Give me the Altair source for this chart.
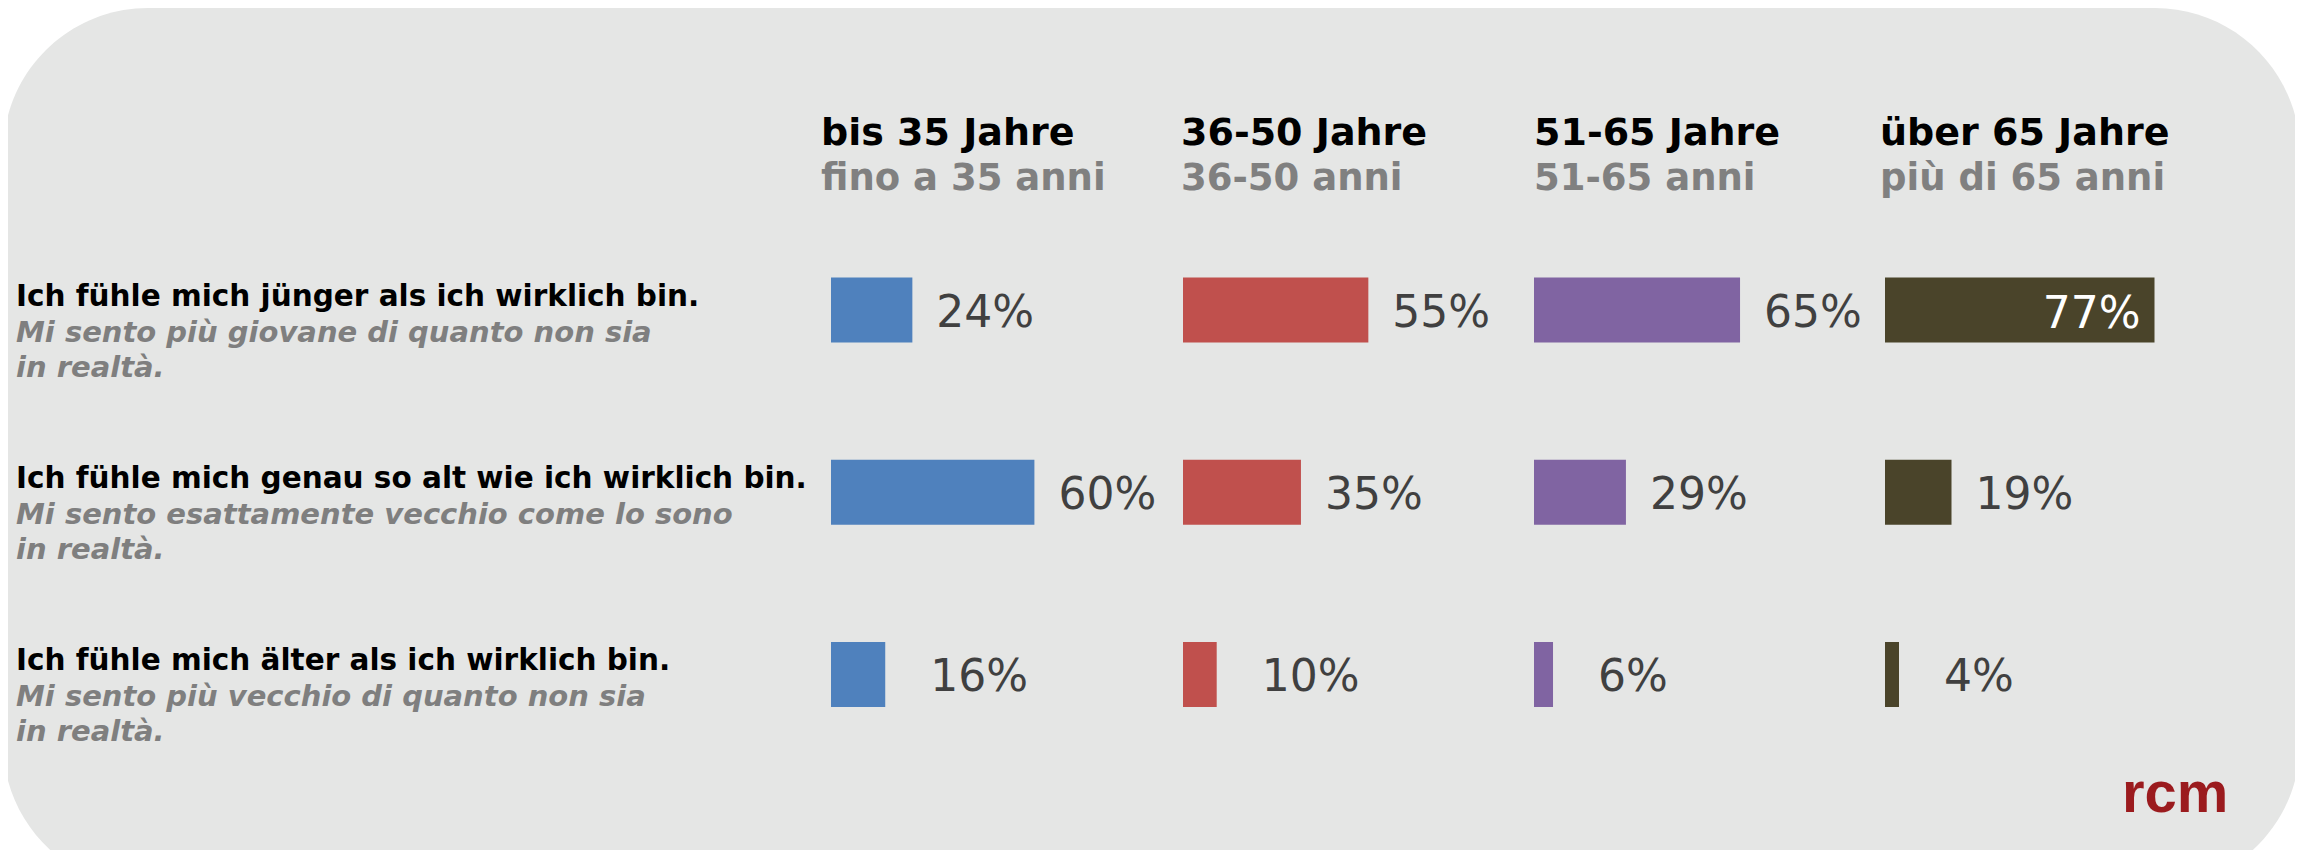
import altair as alt
import pandas as pd

# ---------------- data ----------------
statements_de = [
    "Ich fühle mich jünger als ich wirklich bin.",
    "Ich fühle mich genau so alt wie ich wirklich bin.",
    "Ich fühle mich älter als ich wirklich bin.",
]
statements_it = [
    "Mi sento più giovane di quanto non sia\nin realtà.",
    "Mi sento esattamente vecchio come lo sono\nin realtà.",
    "Mi sento più vecchio di quanto non sia\nin realtà.",
]
groups_de = ["bis 35 Jahre", "36-50 Jahre", "51-65 Jahre", "über 65 Jahre"]
groups_it = ["fino a 35 anni", "36-50 anni", "51-65 anni", "più di 65 anni"]

values_bis35 = [24, 60, 16]
values_36_50 = [55, 35, 10]
values_51_65 = [65, 29, 6]
values_ueber65 = [77, 19, 4]

group_values = [values_bis35, values_36_50, values_51_65, values_ueber65]
colors = ["#4f81bd", "#c0504d", "#8064a2", "#4a442a"]

# ---------------- tables ----------------
rows = []
for g, vals in zip(groups_de, group_values):
    for i, (s, v) in enumerate(zip(statements_de, vals)):
        rows.append({"group": g, "stmt": s, "row": i, "value": v})
df = pd.DataFrame(rows)

labels_df = pd.DataFrame({"stmt": statements_de, "it": statements_it})

FONT = "DejaVu Sans"
BG = "#e5e6e5"

y_enc = alt.Y(
    "stmt:N",
    sort=statements_de,
    scale=alt.Scale(domain=statements_de, range=[211, 757.5], paddingInner=0, paddingOuter=0),
    axis=None,
)

# background rounded panel
bg = alt.Chart(pd.DataFrame({"k": [0]})).mark_rect(
    color=BG, cornerRadius=145
).encode(
    x=alt.value(-5), x2=alt.value(2292), y=alt.value(0), y2=alt.value(880)
)

# row labels
lab_de = alt.Chart(labels_df).mark_text(
    font=FONT, fontSize=29.5, fontWeight="bold", color="#000000",
    align="left", baseline="alphabetic", dy=-4
).encode(x=alt.value(8), y=y_enc, text="stmt:N")

lab_it = alt.Chart(labels_df).mark_text(
    font=FONT, fontSize=29, fontWeight="bold", fontStyle="italic", color="#7f7f7f",
    align="left", baseline="alphabetic", dy=32, lineBreak="\n", lineHeight=35
).encode(x=alt.value(8), y=y_enc, text="it:N")

# per-column scale settings (start pixel, pixels per 100%) and header nudge
col_ranges = [(823, 339), (1175, 337), (1526, 317), (1877, 350)]
header_dx = [-10, -2, 0, -5]


def column(idx):
    g = groups_de[idx]
    x0, span = col_ranges[idx]
    xs = alt.Scale(domain=[0, 100], range=[x0, x0 + span], zero=True, nice=False)
    base = alt.Chart(df).transform_filter(alt.datum.group == g).transform_calculate(
        label="datum.value + '%'"
    )
    x_enc = alt.X("value:Q", scale=xs, axis=None)
    bars = base.mark_bar(height=65, color=colors[idx]).encode(x=x_enc, y=y_enc)
    txt_top = base.transform_filter("datum.value < 70 && datum.row < 2").mark_text(
        font=FONT, fontSize=44, color="#404040", align="left", baseline="alphabetic",
        dx=24, dy=17
    ).encode(x=x_enc, y=y_enc, text="label:N")
    txt_bot = base.transform_filter("datum.value < 70 && datum.row == 2").mark_text(
        font=FONT, fontSize=44, color="#404040", align="left", baseline="alphabetic",
        dx=45, dy=17
    ).encode(x=x_enc, y=y_enc, text="label:N")
    txt_in = base.transform_filter("datum.value >= 70").mark_text(
        font=FONT, fontSize=44, color="#ffffff", align="right", baseline="alphabetic",
        dx=-14, dy=18
    ).encode(x=x_enc, y=y_enc, text="label:N")
    hdr = pd.DataFrame({"de": [g], "it": [groups_it[idx]]})
    h1 = alt.Chart(hdr).mark_text(
        font=FONT, fontSize=38, fontWeight="bold", color="#000000",
        align="left", baseline="alphabetic", dx=header_dx[idx]
    ).encode(x=alt.X(datum=0, scale=xs), y=alt.value(137), text="de:N")
    h2 = alt.Chart(hdr).mark_text(
        font=FONT, fontSize=37, fontWeight="bold", color="#808080",
        align="left", baseline="alphabetic", dx=header_dx[idx]
    ).encode(x=alt.X(datum=0, scale=xs), y=alt.value(182), text="it:N")
    return alt.layer(bars, txt_top, txt_bot, txt_in, h1, h2)


logo = alt.Chart(pd.DataFrame({"t": ["rcm"]})).mark_text(
    font="Liberation Sans", fontSize=58, fontWeight="bold", color="#9b1b1e",
    align="left", baseline="alphabetic"
).encode(x=alt.value(2114), y=alt.value(804), text="t:N")

chart = alt.layer(
    bg, lab_de, lab_it, column(0), column(1), column(2), column(3), logo
).resolve_scale(x="independent").properties(
    width=2287, height=842, padding=0,
    autosize=alt.AutoSizeParams(type="none"),
).configure(background="#ffffff").configure_view(stroke=None)

chart.save("out.html", embed_options={"renderer": "svg", "actions": False})
